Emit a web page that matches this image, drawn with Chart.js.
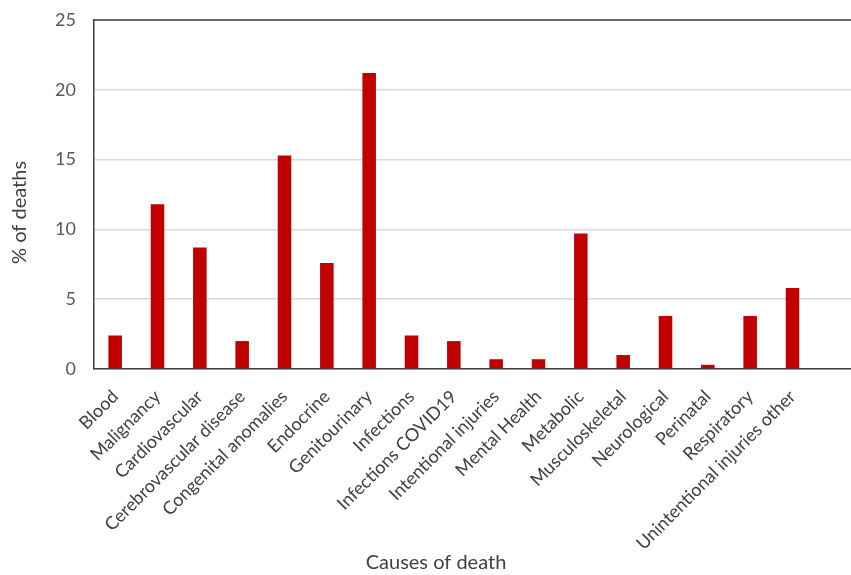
<!DOCTYPE html>
<html>
<head>
<meta charset="utf-8">
<script src="https://cdn.jsdelivr.net/npm/chart.js@4/dist/chart.umd.min.js"></script>
<style>
  html, body { margin: 0; padding: 0; background: #ffffff; overflow: hidden; }
  #wrap { width: 856px; height: 575px; position: relative; }
</style>
</head>
<body>
<div id="wrap"><canvas id="c"></canvas></div>
<script>
const categories = [
  "Blood", "Malignancy", "Cardiovascular", "Cerebrovascular disease",
  "Congenital anomalies", "Endocrine", "Genitourinary", "Infections",
  "Infections COVID19", "Intentional injuries", "Mental Health", "Metabolic",
  "Musculoskeletal", "Neurological", "Perinatal", "Respiratory",
  "Unintentional injuries other"
];
const percentDeaths = [2.4, 11.8, 8.7, 2.0, 15.3, 7.6, 21.2, 2.4, 2.0, 0.7, 0.7, 9.7, 1.0, 3.8, 0.3, 3.8, 5.8];
const yTicks = [0, 5, 10, 15, 20, 25];
const xTitle = "Causes of death";
const yTitle = "% of deaths";

// category axis continues past the last category (empty slot at the right)
const axisLabels = categories.concat([""]);

const topBorder = {
  id: "topBorder",
  afterDraw(chart) {
    const { ctx, chartArea } = chart;
    ctx.save();
    ctx.strokeStyle = "#404040";
    ctx.lineWidth = 1.5;
    ctx.beginPath();
    ctx.moveTo(chartArea.left, chartArea.top);
    ctx.lineTo(chartArea.right, chartArea.top);
    ctx.stroke();
    ctx.restore();
  }
};

new Chart(document.getElementById("c"), {
  type: "bar",
  data: {
    labels: axisLabels,
    datasets: [{
      data: percentDeaths,
      backgroundColor: "#C00000",
      borderWidth: 0,
      categoryPercentage: 1.0,
      barPercentage: 0.32
    }]
  },
  options: {
    responsive: true,
    maintainAspectRatio: false,
    animation: false,
    layout: { padding: { left: 16, right: 0, top: 20, bottom: 0 } },
    plugins: {
      legend: { display: false },
      tooltip: { enabled: false },
      title: {
        display: true,
        position: "bottom",
        text: xTitle,
        color: "#404040",
        font: { family: "Lato", size: 20, weight: "normal" },
        padding: { top: 0, bottom: 0 }
      }
    },
    scales: {
      x: {
        grid: { display: false, drawTicks: false },
        border: { display: true, color: "#404040", width: 1.5 },
        ticks: {
          autoSkip: false,
          maxRotation: 45,
          minRotation: 45,
          padding: 17,
          color: "#404040",
          font: { family: "Lato", size: 18 }
        },
        afterFit(scale) { scale.height = 182; scale.paddingLeft = 0; scale.paddingRight = 0; }
      },
      y: {
        min: 0,
        max: 25,
        afterBuildTicks(scale) { scale.ticks = yTicks.map(v => ({ value: v })); },
        grid: { color: "#d9d9d9", lineWidth: 1.5, drawTicks: false },
        border: { display: true, color: "#404040", width: 1.5 },
        ticks: {
          padding: 18,
          color: "#595959",
          font: { family: "Lato", size: 18 }
        },
        title: {
          display: true,
          text: yTitle + "       ",
          color: "#404040",
          font: { family: "Lato", size: 20 },
          padding: { top: -8, bottom: 0 }
        },
        afterFit(scale) { scale.width = 78; scale.paddingTop = 0; scale.paddingBottom = 0; }
      }
    }
  },
  plugins: [topBorder]
});
</script>
</body>
</html>
